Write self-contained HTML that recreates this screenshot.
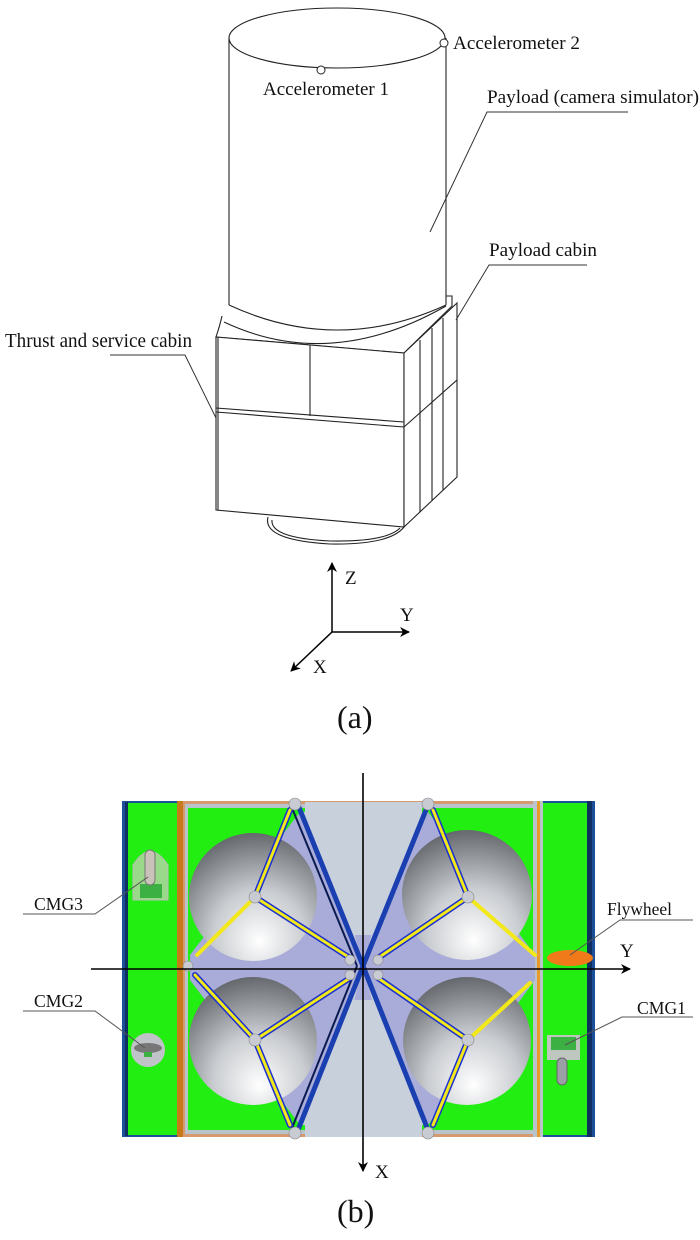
<!DOCTYPE html>
<html><head><meta charset="utf-8"><style>
html,body{margin:0;padding:0;background:#fff;}
svg{display:block;}
text{font-family:"Liberation Serif",serif;fill:#111;}
</style></head><body>
<svg width="700" height="1240" viewBox="0 0 700 1240" xmlns="http://www.w3.org/2000/svg">
<defs>
<radialGradient id="sph" cx="0.55" cy="0.75" r="0.8" fx="0.55" fy="0.85">
<stop offset="0" stop-color="#ffffff"/><stop offset="0.45" stop-color="#c9ccd0"/><stop offset="1" stop-color="#5a5d62"/>
</radialGradient>
<marker id="ar" markerWidth="10" markerHeight="10" refX="9" refY="5" orient="auto" markerUnits="userSpaceOnUse">
<path d="M0,0 L10,5 L0,10 L3,5 Z" fill="#000"/></marker>
</defs>
<!-- Figure a -->
<g fill="none" stroke="#222" stroke-width="1.1">
<path d="M222,316 Q220,325 216,337 L404,353 L452,306 L452,296 L446,296"/>
<path d="M224,322 Q330,372 446,306"/>
<path d="M229,305 Q337,355 446,305"/>
<ellipse cx="337" cy="38" rx="108" ry="30" fill="#fff"/>
<line x1="229" y1="38" x2="229" y2="305"/>
<line x1="446" y1="38" x2="446" y2="305"/>
<path d="M216,337 L404,353 L404,527 L216,510 Z" fill="#fff"/>
<line x1="216" y1="408" x2="404" y2="422"/>
<line x1="216" y1="412" x2="404" y2="427"/>
<line x1="310" y1="345" x2="310" y2="416"/>
<line x1="218" y1="337" x2="218" y2="510"/>
<path d="M404,353 L457,303 L457,477 L404,527 Z" fill="#fff"/>
<line x1="404" y1="427" x2="457" y2="380"/>
<line x1="420" y1="340" x2="420" y2="512"/>
<line x1="432" y1="328" x2="432" y2="500"/>
<line x1="443" y1="318" x2="443" y2="490"/>
<path d="M268,517 Q262,540 330,544 Q390,545 404,527"/>
<path d="M272,520 Q270,538 330,541 Q386,542 400,528"/>
</g>
<circle cx="444" cy="43" r="4" fill="#fff" stroke="#222"/>
<circle cx="321" cy="70" r="4" fill="#fff" stroke="#222"/>
<text x="453" y="49" font-size="19" textLength="127" lengthAdjust="spacingAndGlyphs">Accelerometer 2</text>
<text x="263" y="95" font-size="19" textLength="126" lengthAdjust="spacingAndGlyphs">Accelerometer 1</text>
<text x="487" y="103" font-size="19" textLength="212" lengthAdjust="spacingAndGlyphs">Payload (camera simulator)</text>
<polyline points="628,112 487,112 430,232" fill="none" stroke="#333" stroke-width="1"/>
<text x="489" y="256" font-size="19" textLength="108" lengthAdjust="spacingAndGlyphs">Payload cabin</text>
<polyline points="587,265 489,265 456,320" fill="none" stroke="#333" stroke-width="1"/>
<text x="5" y="347" font-size="20" textLength="187" lengthAdjust="spacingAndGlyphs">Thrust and service cabin</text>
<polyline points="110,355 185,355 216,418" fill="none" stroke="#333" stroke-width="1"/>
<g stroke="#000" stroke-width="1.5" fill="none">
<line x1="332" y1="632" x2="332" y2="563" marker-end="url(#ar)"/>
<line x1="332" y1="632" x2="409" y2="632" marker-end="url(#ar)"/>
<line x1="332" y1="632" x2="291" y2="671" marker-end="url(#ar)"/>
</g>
<text x="345" y="584" font-size="19">Z</text>
<text x="400" y="621" font-size="19">Y</text>
<text x="313" y="673" font-size="19">X</text>
<text x="337" y="728" font-size="32">(a)</text>

<!-- Figure b -->
<rect x="122" y="801" width="473" height="336" fill="#1c4f9a"/>
<rect x="125" y="802" width="3" height="334" fill="#0f2f5e"/>
<rect x="128" y="803" width="49" height="332" fill="#22ee11"/>
<rect x="177" y="801" width="8" height="336" fill="#c87a1a"/>
<rect x="183" y="801" width="354" height="336" fill="#d59a70"/>
<rect x="185" y="804" width="350" height="330" fill="#b9c3cc"/>
<rect x="188" y="808" width="345" height="322" fill="#22ee11"/>
<rect x="533" y="801" width="10" height="336" fill="#b9c3cc"/>
<rect x="537" y="801" width="3" height="336" fill="#e89a2a"/>
<rect x="543" y="803" width="44" height="332" fill="#22ee11"/>
<rect x="587" y="801" width="5" height="336" fill="#0f2f5e"/>
<rect x="305" y="802" width="117" height="335" fill="#c8d0dc"/>
<polygon points="190,955 300,812 363,966 300,1125 190,980" fill="#a9acd8"/>
<polygon points="535,955 428,812 363,966 428,1125 535,980" fill="#a9acd8"/>
<polygon points="310,935 417,935 417,1000 310,1000" fill="#a9acd8"/>
<polygon points="300,812 322,812 363,966" fill="#c8d0dc"/>
<polygon points="428,812 405,812 363,966" fill="#c8d0dc"/>
<polygon points="300,1125 322,1125 363,966" fill="#c8d0dc"/>
<polygon points="428,1125 405,1125 363,966" fill="#c8d0dc"/>
<circle cx="253" cy="897" r="64" fill="url(#sph)"/>
<circle cx="467" cy="895" r="65" fill="url(#sph)"/>
<circle cx="253" cy="1041" r="64" fill="url(#sph)"/>
<circle cx="467" cy="1041" r="64" fill="url(#sph)"/>
<g stroke="#1a3fb0" stroke-width="5" stroke-linecap="round">
<line x1="298" y1="805" x2="363" y2="966"/><line x1="363" y1="966" x2="298" y2="1130"/>
<line x1="428" y1="805" x2="363" y2="966"/><line x1="363" y1="966" x2="428" y2="1130"/>
</g>
<g stroke="#0a1a50" stroke-width="2">
<line x1="292" y1="808" x2="357" y2="966"/><line x1="357" y1="966" x2="292" y2="1128"/>
</g>
<g stroke="#1a2fd0" stroke-width="6" stroke-linecap="round" fill="none">
<path d="M290,810 L255,897 L350,958 M433,810 L468,897 L378,958 M350,978 L255,1040 L290,1125 M378,978 L468,1040 L433,1125 M195,975 L255,1040"/>
</g>
<g stroke="#f2e81a" stroke-width="3" stroke-linecap="round" fill="none">
<path d="M290,810 L255,897 L350,958 M433,810 L468,897 L378,958 M350,978 L255,1040 L290,1125 M378,978 L468,1040 L433,1125 M195,975 L255,1040"/>
<path d="M255,897 L197,955 M468,897 L535,955 M468,1040 L530,983" stroke-width="4"/>
</g>
<g fill="#c8ccd2" stroke="#888" stroke-width="0.6">
<circle cx="295" cy="804" r="6"/><circle cx="428" cy="804" r="6"/>
<circle cx="295" cy="1133" r="6"/><circle cx="428" cy="1133" r="6"/>
<circle cx="350" cy="960" r="5"/><circle cx="378" cy="960" r="5"/>
<circle cx="350" cy="975" r="5"/><circle cx="378" cy="975" r="5"/>
<circle cx="188" cy="966" r="5"/>
<circle cx="255" cy="897" r="6"/><circle cx="468" cy="897" r="6"/>
<circle cx="255" cy="1040" r="6"/><circle cx="468" cy="1040" r="6"/>
</g>
<path d="M133,900 L133,865 Q150,838 168,865 L168,900 Z" fill="#9ad88a" stroke="#bbb"/>
<rect x="140" y="884" width="22" height="14" fill="#3cb043"/>
<rect x="145" y="850" width="10" height="35" rx="5" fill="#c9c2b8" stroke="#777"/>
<circle cx="148" cy="1050" r="17" fill="#c0c4c8"/>
<ellipse cx="148" cy="1048" rx="14" ry="5" fill="#777"/>
<rect x="144" y="1052" width="8" height="5" fill="#3cb043"/>
<ellipse cx="570" cy="958" rx="23" ry="8" fill="#f07a1a"/>
<rect x="547" y="1035" width="33" height="25" fill="#bfc6c0"/>
<rect x="551" y="1037" width="25" height="13" fill="#3cb043"/>
<rect x="557" y="1058" width="10" height="27" rx="5" fill="#9aa0a6" stroke="#666"/>
<g stroke="#000" stroke-width="1.6">
<line x1="91" y1="969" x2="630" y2="969" marker-end="url(#ar)"/>
<line x1="363" y1="773" x2="363" y2="1171" marker-end="url(#ar)"/>
</g>
<text x="620" y="957" font-size="19">Y</text>
<text x="375" y="1178" font-size="19">X</text>
<text x="34" y="910" font-size="18" textLength="49" lengthAdjust="spacingAndGlyphs">CMG3</text>
<polyline points="23,914 95,914 148,877" fill="none" stroke="#555" stroke-width="1"/>
<text x="34" y="1007" font-size="18" textLength="49" lengthAdjust="spacingAndGlyphs">CMG2</text>
<polyline points="23,1011 95,1011 145,1048" fill="none" stroke="#555" stroke-width="1"/>
<text x="607" y="915" font-size="18" textLength="65" lengthAdjust="spacingAndGlyphs">Flywheel</text>
<polyline points="693,920 620,920 570,955" fill="none" stroke="#555" stroke-width="1"/>
<text x="637" y="1014" font-size="18" textLength="49" lengthAdjust="spacingAndGlyphs">CMG1</text>
<polyline points="693,1017 622,1017 565,1045" fill="none" stroke="#555" stroke-width="1"/>
<text x="337" y="1222" font-size="32">(b)</text>
</svg>
</body></html>
